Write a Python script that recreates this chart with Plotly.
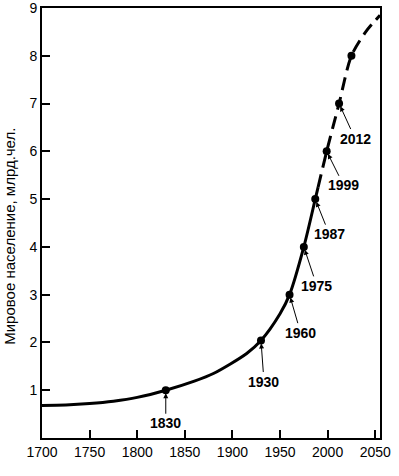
import plotly.graph_objects as go

# Solid (historical) part of the curve
solid_years = [1700, 1725, 1750, 1775, 1800, 1830, 1860, 1880, 1915, 1930, 1950, 1960, 1975, 1987, 1990]
solid_values = [0.68, 0.69, 0.72, 0.77, 0.85, 1.0, 1.19, 1.35, 1.77, 2.04, 2.6, 3.0, 4.0, 5.0, 5.25]
# Dashed (projected) part
dash_years = [1990, 1999, 2012, 2025, 2040, 2055]
dash_values = [5.25, 6.0, 7.0, 8.0, 8.5, 8.85]
# Marked milestones
mark_years = [1830, 1930, 1960, 1975, 1987, 1999, 2012, 2025]
mark_values = [1.0, 2.04, 3.0, 4.0, 5.0, 6.0, 7.0, 8.0]
mark_labels = ["1830", "1930", "1960", "1975", "1987", "1999", "2012", ""]
label_offsets = [(0, 33), (3, 41), (11, 38), (13, 39), (14, 35), (17, 34), (16, 35), None]

x_ticks = [1700, 1750, 1800, 1850, 1900, 1950, 2000, 2050]
y_ticks = [1, 2, 3, 4, 5, 6, 7, 8, 9]
y_title = "Мировое население, млрд.чел."

fig = go.Figure()
fig.add_trace(go.Scatter(x=solid_years, y=solid_values, mode="lines",
                         line=dict(color="black", width=3, shape="spline", smoothing=0.8),
                         showlegend=False, hoverinfo="skip"))
fig.add_trace(go.Scatter(x=dash_years, y=dash_values, mode="lines",
                         line=dict(color="black", width=3, shape="spline", smoothing=0.8,
                                   dash="13px,7px"),
                         showlegend=False, hoverinfo="skip"))
fig.add_trace(go.Scatter(x=mark_years, y=mark_values, mode="markers",
                         marker=dict(color="black", size=8),
                         showlegend=False, hoverinfo="skip"))

for yr, v, lab, off in zip(mark_years, mark_values, mark_labels, label_offsets):
    if not lab:
        continue
    fig.add_annotation(x=yr, y=v, text="<b>" + lab + "</b>", showarrow=True,
                       ax=off[0], ay=off[1], arrowhead=2, arrowsize=1,
                       arrowwidth=1, arrowcolor="black", standoff=3,
                       font=dict(family="Liberation Sans Narrow, Liberation Sans, Arial",
                                 size=14, color="black"))

# Y axis title as rotated text
fig.add_annotation(xref="paper", yref="paper", x=-0.095, y=0.47, text=y_title,
                   textangle=-90, showarrow=False, xanchor="center", yanchor="middle",
                   font=dict(family="Liberation Sans, Arial", size=15, color="black"))

fig.update_layout(
    width=399, height=476,
    margin=dict(l=42, r=19, t=8, b=38),
    paper_bgcolor="white", plot_bgcolor="white",
    font=dict(family="Liberation Sans Narrow, Liberation Sans, Arial", color="black"),
)
fig.update_xaxes(range=[1700, 2055], tickvals=x_ticks, ticks="inside", ticklen=8,
                 tickwidth=1.5, tickcolor="black", showline=True, linecolor="black",
                 linewidth=2, mirror=True, showgrid=False, zeroline=False,
                 automargin=False, ticklabeloverflow="allow", tickfont=dict(size=14))
fig.update_yaxes(range=[0, 9], tickvals=y_ticks, ticks="inside", ticklen=8,
                 tickwidth=1.5, tickcolor="black", showline=True, linecolor="black",
                 linewidth=2, mirror=True, showgrid=False, zeroline=False,
                 automargin=False, ticklabeloverflow="allow", tickfont=dict(size=14))

fig.write_html("out.html", config={"displayModeBar": False},
               post_script="document.body.style.margin='0';")
